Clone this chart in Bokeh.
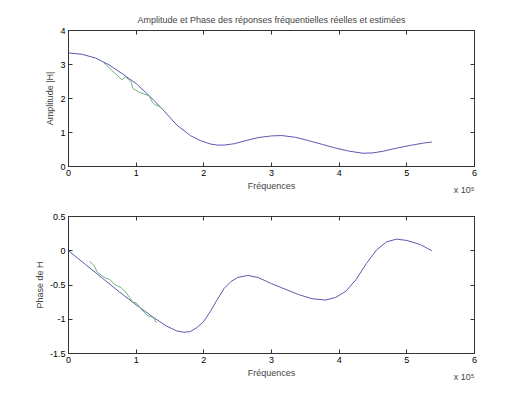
from bokeh.plotting import figure
from bokeh.models import LinearAxis, FixedTicker, Range1d, CustomLabelingPolicy, Title
from bokeh.layouts import column
from bokeh.embed import file_html
from bokeh.resources import INLINE

# ---------------- data (frequencies in units of 1e5 Hz) ----------------
amp_freq = [0.00, 0.20, 0.40, 0.60, 0.80, 1.00, 1.20, 1.40, 1.60, 1.80, 1.95, 2.10,
            2.20, 2.30, 2.45, 2.60, 2.80, 3.00, 3.15, 3.35, 3.55, 3.75, 3.95, 4.15,
            4.35, 4.50, 4.65, 4.85, 5.05, 5.25, 5.37]
amp_real = [3.34, 3.30, 3.19, 2.99, 2.72, 2.44, 2.07, 1.66, 1.22, 0.91, 0.76, 0.66,
            0.63, 0.63, 0.67, 0.75, 0.85, 0.90, 0.91, 0.86, 0.76, 0.65, 0.54, 0.45,
            0.39, 0.40, 0.45, 0.54, 0.62, 0.69, 0.72]

amp_est_freq = [0.50, 0.79, 0.84, 0.92, 0.95, 1.04, 1.16, 1.19, 1.24, 1.28, 1.33, 1.40]
amp_est = [3.09, 2.55, 2.64, 2.51, 2.30, 2.19, 2.10, 2.08, 1.89, 1.81, 1.78, 1.66]

ph_freq = [0.00, 0.25, 0.50, 0.75, 1.00, 1.25, 1.45, 1.60, 1.70, 1.80, 1.90, 2.00,
           2.10, 2.20, 2.30, 2.40, 2.50, 2.65, 2.80, 3.00, 3.20, 3.40, 3.60, 3.80,
           3.95, 4.10, 4.25, 4.40, 4.55, 4.70, 4.85, 5.00, 5.20, 5.37]
ph_real = [0.00, -0.20, -0.40, -0.60, -0.79, -0.97, -1.10, -1.17, -1.19, -1.18, -1.12, -1.03,
           -0.88, -0.71, -0.55, -0.45, -0.39, -0.36, -0.39, -0.48, -0.56, -0.64, -0.70, -0.72,
           -0.68, -0.59, -0.42, -0.19, 0.01, 0.13, 0.17, 0.15, 0.09, 0.00]

ph_est_freq = [0.31, 0.33, 0.38, 0.43, 0.53, 0.61, 0.68, 0.78, 0.85, 0.90, 0.95, 1.00,
               1.07, 1.17, 1.25, 1.30]
ph_est = [-0.16, -0.17, -0.22, -0.32, -0.39, -0.42, -0.49, -0.54, -0.61, -0.68, -0.75, -0.76,
          -0.85, -0.95, -0.97, -1.05]

x_ticks = [0, 1, 2, 3, 4, 5, 6]
amp_ticks = [0, 1, 2, 3, 4]
ph_ticks = [-1.5, -1, -0.5, 0, 0.5]
ph_tick_labels = {-1.5: "-1.5", -1: "-1", -0.5: "-0.5", 0: "0", 0.5: "0.5"}

TITLE = "Amplitude et Phase des réponses fréquentielles réelles et estimées"
X_MULT = "x 10\u2075"
FONT = "Liberation Sans"
FS = "9px"
BLUE = "#5a5ab0"
GREEN = "#6fb27f"

NO_LABELS = "for (const i of indices) { if (i < 0) yield i }"


def style_axis(ax, ticks, show_labels=True):
    ax.ticker = FixedTicker(ticks=ticks)
    ax.major_tick_in = 4
    ax.major_tick_out = 0
    ax.minor_tick_in = 0
    ax.minor_tick_out = 0
    ax.major_tick_line_color = "#333333"
    ax.axis_line_color = "#333333"
    ax.major_label_text_font = FONT
    ax.major_label_text_font_size = FS
    ax.major_label_text_color = "black"
    ax.major_label_standoff = 3 if show_labels else 0
    if not show_labels:
        ax.major_label_policy = CustomLabelingPolicy(code=NO_LABELS)
    ax.axis_label_text_font = FONT
    ax.axis_label_text_font_size = FS
    ax.axis_label_text_font_style = "normal"
    ax.axis_label_standoff = 2


def make_fig(height, top, bottom, yr, yticks, ylabel):
    p = figure(width=521, height=height, x_range=Range1d(0, 6), y_range=Range1d(*yr),
               output_backend="svg", toolbar_location=None,
               min_border_left=68, min_border_right=47,
               min_border_top=top, min_border_bottom=bottom)
    p.xgrid.visible = False
    p.ygrid.visible = False
    p.outline_line_color = "#333333"
    p.outline_line_width = 1
    p.background_fill_color = "white"
    p.border_fill_color = "white"
    style_axis(p.xaxis[0], x_ticks)
    style_axis(p.yaxis[0], yticks)
    p.xaxis[0].axis_label = "Fréquences"
    p.yaxis[0].axis_label = ylabel
    ax_top = LinearAxis()
    style_axis(ax_top, x_ticks, show_labels=False)
    p.add_layout(ax_top, "above")
    ax_right = LinearAxis()
    style_axis(ax_right, yticks, show_labels=False)
    p.add_layout(ax_right, "right")
    mult = Title(text=X_MULT, align="right", vertical_align="top", text_font=FONT,
                 text_font_size=FS, text_font_style="normal", standoff=-18)
    p.add_layout(mult, "below")
    return p


# ---------------- amplitude ----------------
p1 = make_fig(198, 30, 32, (0, 4), amp_ticks, "Amplitude |H|")
p1.title.text = TITLE
p1.title.align = "center"
p1.title.text_font = FONT
p1.title.text_font_size = FS
p1.title.text_font_style = "normal"
p1.title.standoff = -6
p1.line(amp_freq, amp_real, line_color=BLUE, line_width=1)
p1.line(amp_est_freq, amp_est, line_color=GREEN, line_width=1)

# ---------------- phase ----------------
p2 = make_fig(189, 18, 34, (-1.5, 0.5), ph_ticks, "Phase de H")
p2.yaxis[0].major_label_overrides = ph_tick_labels
p2.line(ph_freq, ph_real, line_color=BLUE, line_width=1)
p2.line(ph_est_freq, ph_est, line_color=GREEN, line_width=1)

layout = column(p1, p2)
open("out.html", "w").write(file_html(layout, INLINE))
